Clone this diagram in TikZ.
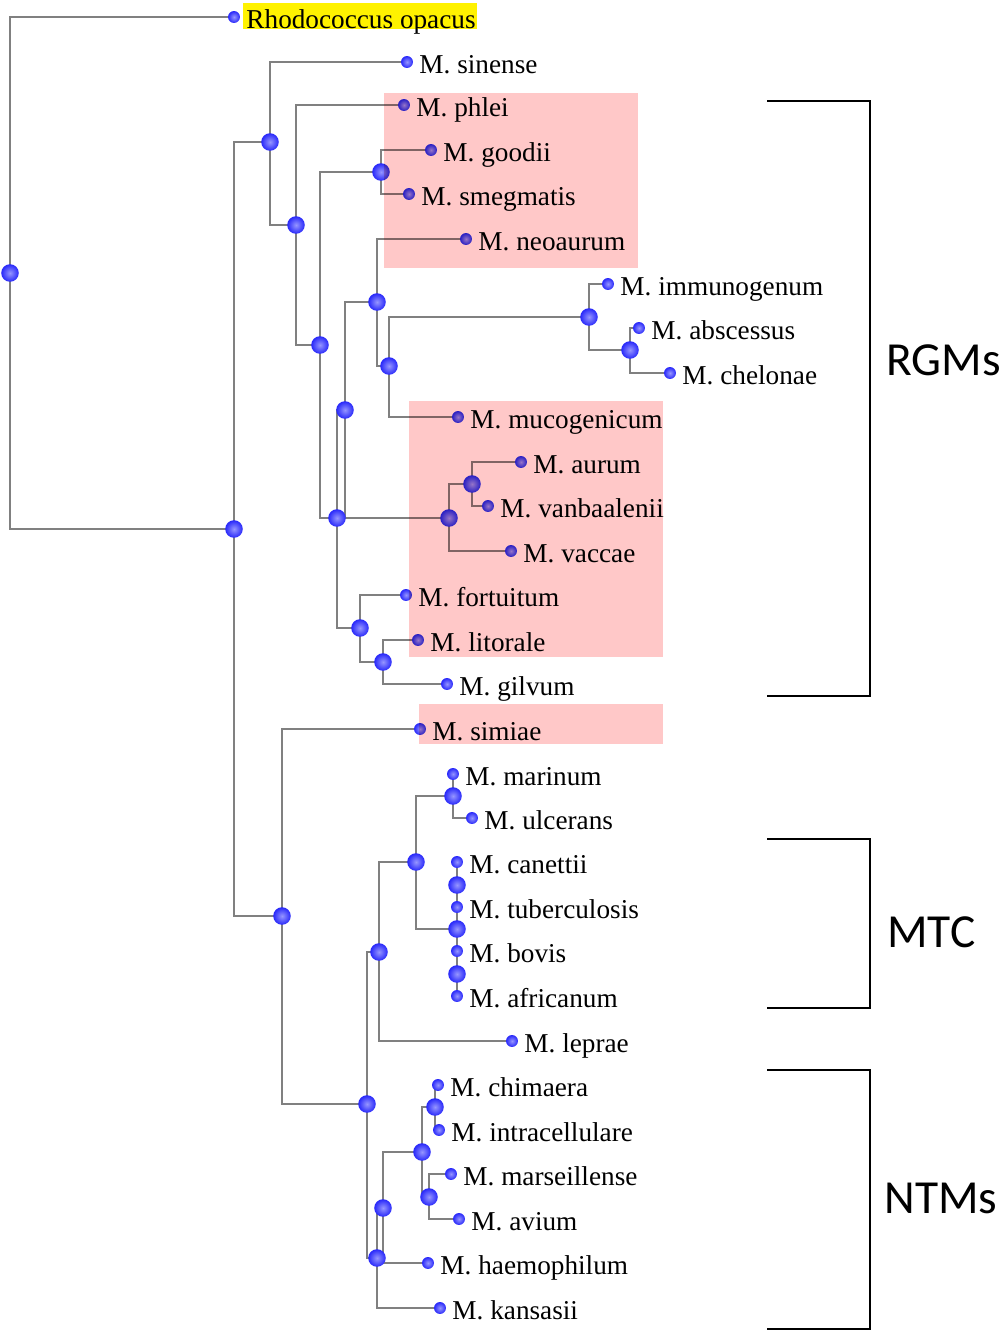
\documentclass[tikz,border=0pt]{standalone}
\usepackage{fontspec}
\setmainfont{Liberation Serif}
\newfontfamily\carlito{Carlito}
\usetikzlibrary{backgrounds}

\definecolor{tipblue}{RGB}{40,40,250}
\definecolor{tiplight}{RGB}{150,150,255}
\definecolor{boxpink}{RGB}{255,200,200}
\definecolor{branchgray}{RGB}{128,128,128}
\newcommand\taxonfont{\fontsize{15.5pt}{18pt}\selectfont}
\newcommand\cladefont{\carlito\fontsize{27pt}{32pt}\selectfont}

\tikzset{
  leaf/.style={circle, inner sep=0pt, minimum size=6.8pt, inner color=tiplight, outer color=tipblue},
  fork/.style={circle, inner sep=0pt, minimum size=10pt, inner color=tiplight, outer color=tipblue},
  lab/.style={anchor=base west, inner sep=0pt, xshift=3.3pt, yshift=-6.8pt, font=\taxonfont},
  branch/.style={draw=branchgray, line width=1.1pt},
  clade/.style={draw=black, line width=0.75pt},
  group/.style={anchor=base west, inner sep=0pt, font=\cladefont},
}

\begin{document}
\begin{tikzpicture}[x=0.02cm, y=-0.02cm]
\useasboundingbox (0,0) rectangle (1000,1332);
% The forks of the tree, top to bottom
\node[fork] (root) at (10,273) {};
\node[fork] (A) at (234,529) {};
\node[fork] (B) at (270,142) {};
\node[fork] (D) at (296,225) {};
\node[fork] (E) at (320,345) {};
\node[fork] (F) at (381,172) {};
\node[fork] (G) at (337,518) {};
\node[fork] (H) at (345,410) {};
\node[fork] (K) at (377,302) {};
\node[fork] (M) at (389,366) {};
\node[fork] (N) at (589,317) {};
\node[fork] (O) at (630,350) {};
\node[fork] (L) at (449,518) {};
\node[fork] (P) at (472,484) {};
\node[fork] (J) at (360,628) {};
\node[fork] (Q) at (383,662) {};
\node[fork] (C) at (282,916) {};
\node[fork] (R) at (367,1104) {};
\node[fork] (S) at (379,952) {};
\node[fork] (U) at (416,862) {};
\node[fork] (V) at (453,796) {};
\node[fork] (W) at (457,929) {};
\node[fork] (X) at (457,885) {};
\node[fork] (Y) at (457,974) {};
\node[fork] (T) at (377,1258) {};
\node[fork] (Z) at (383,1208) {};
\node[fork] (AA) at (422,1152) {};
\node[fork] (AB) at (435,1107) {};
\node[fork] (AC) at (429,1197) {};
% Then the leaves with their names
\node[leaf, label={[lab]0:Rhodococcus opacus}] (rhod) at (234,17) {};
\node[leaf, label={[lab]0:M. sinense}] (sinense) at (407,62) {};
\node[leaf, label={[lab]0:M. phlei}] (phlei) at (404,105) {};
\node[leaf, label={[lab]0:M. goodii}] (goodii) at (431,150) {};
\node[leaf, label={[lab]0:M. smegmatis}] (smegmatis) at (409,194) {};
\node[leaf, label={[lab]0:M. neoaurum}] (neoaurum) at (466,239) {};
\node[leaf, label={[lab]0:M. immunogenum}] (immunogenum) at (608,284) {};
\node[leaf, label={[lab]0:M. abscessus}] (abscessus) at (639,328) {};
\node[leaf, label={[lab]0:M. chelonae}] (chelonae) at (670,373) {};
\node[leaf, label={[lab]0:M. mucogenicum}] (mucogenicum) at (458,417) {};
\node[leaf, label={[lab]0:M. aurum}] (aurum) at (521,462) {};
\node[leaf, label={[lab]0:M. vanbaalenii}] (vanbaalenii) at (488,506) {};
\node[leaf, label={[lab]0:M. vaccae}] (vaccae) at (511,551) {};
\node[leaf, label={[lab]0:M. fortuitum}] (fortuitum) at (406,595) {};
\node[leaf, label={[lab]0:M. litorale}] (litorale) at (418,640) {};
\node[leaf, label={[lab]0:M. gilvum}] (gilvum) at (447,684) {};
\node[leaf, label={[lab]0:M. simiae}] (simiae) at (420,729) {};
\node[leaf, label={[lab]0:M. marinum}] (marinum) at (453,774) {};
\node[leaf, label={[lab]0:M. ulcerans}] (ulcerans) at (472,818) {};
\node[leaf, label={[lab]0:M. canettii}] (canettii) at (457,862) {};
\node[leaf, label={[lab]0:M. tuberculosis}] (tuberculosis) at (457,907) {};
\node[leaf, label={[lab]0:M. bovis}] (bovis) at (457,951) {};
\node[leaf, label={[lab]0:M. africanum}] (africanum) at (457,996) {};
\node[leaf, label={[lab]0:M. leprae}] (leprae) at (512,1041) {};
\node[leaf, label={[lab]0:M. chimaera}] (chimaera) at (438,1085) {};
\node[leaf, label={[lab]0:M. intracellulare}] (intracellulare) at (439,1130) {};
\node[leaf, label={[lab]0:M. marseillense}] (marseillense) at (451,1174) {};
\node[leaf, label={[lab]0:M. avium}] (avium) at (459,1219) {};
\node[leaf, label={[lab]0:M. haemophilum}] (haemophilum) at (428,1263) {};
\node[leaf, label={[lab]0:M. kansasii}] (kansasii) at (440,1308) {};
% Elbow branches go behind the balls
\begin{scope}[on background layer]
\draw[branch] (root.center) |- (rhod.center) (root.center) |- (A.center);
\draw[branch] (A.center) |- (B.center) (A.center) |- (C.center);
\draw[branch] (B.center) |- (sinense.center) (B.center) |- (D.center);
\draw[branch] (D.center) |- (phlei.center) (D.center) |- (E.center);
\draw[branch] (E.center) |- (F.center) (E.center) |- (G.center);
\draw[branch] (F.center) |- (goodii.center) (F.center) |- (smegmatis.center);
\draw[branch] (G.center) |- (H.center) (G.center) |- (J.center);
\draw[branch] (H.center) |- (K.center) (H.center) |- (L.center);
\draw[branch] (K.center) |- (neoaurum.center) (K.center) |- (M.center);
\draw[branch] (M.center) |- (N.center) (M.center) |- (mucogenicum.center);
\draw[branch] (N.center) |- (immunogenum.center) (N.center) |- (O.center);
\draw[branch] (O.center) |- (abscessus.center) (O.center) |- (chelonae.center);
\draw[branch] (L.center) |- (P.center) (L.center) |- (vaccae.center);
\draw[branch] (P.center) |- (aurum.center) (P.center) |- (vanbaalenii.center);
\draw[branch] (J.center) |- (fortuitum.center) (J.center) |- (Q.center);
\draw[branch] (Q.center) |- (litorale.center) (Q.center) |- (gilvum.center);
\draw[branch] (C.center) |- (simiae.center) (C.center) |- (R.center);
\draw[branch] (R.center) |- (S.center) (R.center) |- (T.center);
\draw[branch] (S.center) |- (U.center) (S.center) |- (leprae.center);
\draw[branch] (U.center) |- (V.center) (U.center) |- (W.center);
\draw[branch] (V.center) |- (marinum.center) (V.center) |- (ulcerans.center);
\draw[branch] (W.center) |- (X.center) (W.center) |- (Y.center);
\draw[branch] (X.center) |- (canettii.center) (X.center) |- (tuberculosis.center);
\draw[branch] (Y.center) |- (bovis.center) (Y.center) |- (africanum.center);
\draw[branch] (T.center) |- (Z.center) (T.center) |- (kansasii.center);
\draw[branch] (Z.center) |- (AA.center) (Z.center) |- (haemophilum.center);
\draw[branch] (AA.center) |- (AB.center) (AA.center) |- (AC.center);
\draw[branch] (AB.center) |- (chimaera.center) (AB.center) |- (intracellulare.center);
\draw[branch] (AC.center) |- (marseillense.center) (AC.center) |- (avium.center);
\end{scope}
% Highlight boxes, multiplied over what lies below
\begin{scope}[blend mode=multiply]
\fill[yellow] (243,3) rectangle (477,29);
\fill[boxpink] (384,93) rectangle (638,268);
\fill[boxpink] (409,401) rectangle (663,657);
\fill[boxpink] (419,704) rectangle (663,744);
\end{scope}
% Brackets for the three groups
\draw[clade] (767,101) -| (870,696) -- (767,696);
\draw[clade] (767,839) -| (870,1008) -- (767,1008);
\draw[clade] (767,1070) -| (870,1329) -- (767,1329);
\node[group] (rgms) at (886,375) {RGMs};
\node[group] (mtc) at (887,947) {MTC};
\node[group] (ntms) at (884,1213) {NTMs};
\end{tikzpicture}
\end{document}
